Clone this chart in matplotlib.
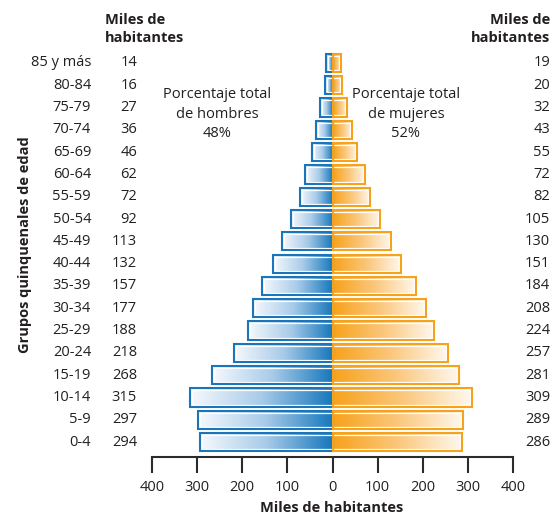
import matplotlib
matplotlib.use("Agg")
import matplotlib.pyplot as plt
import numpy as np
from matplotlib.colors import LinearSegmentedColormap
from matplotlib.patches import Rectangle
from matplotlib.transforms import blended_transform_factory

plt.rcParams['font.family'] = ['Open Sans', 'DejaVu Sans']

age_groups = ["0-4", "5-9", "10-14", "15-19", "20-24", "25-29", "30-34", "35-39",
              "40-44", "45-49", "50-54", "55-59", "60-64", "65-69", "70-74",
              "75-79", "80-84", "85 y más"]
men = [294, 297, 315, 268, 218, 188, 177, 157, 132, 113, 92, 72, 62, 46, 36, 27, 16, 14]
women = [286, 289, 309, 281, 257, 224, 208, 184, 151, 130, 105, 82, 72, 55, 43, 32, 20, 19]
xticks = [-400, -300, -200, -100, 0, 100, 200, 300, 400]
xtick_labels = ["400", "300", "200", "100", "0", "100", "200", "300", "400"]

W, H = 553, 516
fig = plt.figure(figsize=(W / 100, H / 100), dpi=100)
ax = fig.add_axes([152 / W, (H - 457) / H, (513 - 152) / W, (457 - 40) / H])

n = len(age_groups)
row_px = (442 - 63) / (n - 1)
ax.set_xlim(-400, 400)
ax.set_ylim(-15 / row_px, (n - 1) + 23 / row_px)

blue = "#1a75bb"
orange = "#f7a21b"
cm_m = LinearSegmentedColormap.from_list("m", ["#f6f9fd", "#a8cbe9", "#1577bc"])
cm_w = LinearSegmentedColormap.from_list("w", ["#f7a21b", "#fbc77c", "#fff9f0"])
grad = np.linspace(0, 1, 256).reshape(1, -1)

h = 0.82
px_x = 800 / (513 - 152)  # data units per pixel in x
px_y = 1 / row_px
ix, iy = 2.0 * px_x, 2.0 * px_y

for i in range(n):
    m, w = men[i], women[i]
    y0, y1 = i - h / 2, i + h / 2
    ax.imshow(grad, cmap=cm_m, extent=[-m, 0, y0, y1], aspect='auto', zorder=2,
              interpolation='bilinear')
    ax.imshow(grad, cmap=cm_w, extent=[0, w, y0, y1], aspect='auto', zorder=2,
              interpolation='bilinear')
    # inner white lines (three sides)
    ax.plot([0, -m + ix, -m + ix, 0], [y1 - iy, y1 - iy, y0 + iy, y0 + iy],
            color="white", lw=0.9, zorder=3, solid_joinstyle='miter')
    ax.plot([0, w - ix, w - ix, 0], [y1 - iy, y1 - iy, y0 + iy, y0 + iy],
            color="white", lw=0.9, zorder=3, solid_joinstyle='miter')
    ax.add_patch(Rectangle((-m, y0), m, h, fill=False, edgecolor=blue, lw=1.5, zorder=4))
    ax.add_patch(Rectangle((0, y0), w, h, fill=False, edgecolor=orange, lw=1.5, zorder=4))

for s in ["left", "right", "top"]:
    ax.spines[s].set_visible(False)
ax.spines["bottom"].set_color("#2b2b2b")
ax.spines["bottom"].set_linewidth(1.5)
ax.set_yticks([])
ax.set_xticks(xticks)
ax.set_xticklabels(xtick_labels, fontsize=10.5, color="#231f20")
ax.tick_params(axis='x', direction='out', length=11.5, width=1.5, color="#2b2b2b", pad=5)
ax.set_facecolor("none")

tr = blended_transform_factory(fig.transFigure, ax.transData)
fs = 10.5
tc = "#231f20"
for i in range(n):
    ax.text(91 / W, i, age_groups[i], transform=tr, ha='right', va='center', fontsize=fs, color=tc)
    ax.text(137 / W, i, str(men[i]), transform=tr, ha='right', va='center', fontsize=fs, color=tc)
    ax.text(550 / W, i, str(women[i]), transform=tr, ha='right', va='center', fontsize=fs, color=tc)

fig.text(105 / W, 1 - 29 / H, "Miles de\nhabitantes", ha='left', va='center', fontsize=10.5,
         fontweight='bold', color=tc, linespacing=1.4)
fig.text(550 / W, 1 - 29 / H, "Miles de\nhabitantes", ha='right', va='center', fontsize=10.5,
         fontweight='bold', color=tc, linespacing=1.4, multialignment='right')
fig.text(217 / W, 1 - 114 / H, "Porcentaje total\nde hombres\n48%", ha='center', va='center',
         fontsize=fs, color=tc, linespacing=1.4)
fig.text(406 / W, 1 - 114 / H, "Porcentaje total\nde mujeres\n52%", ha='center', va='center',
         fontsize=fs, color=tc, linespacing=1.4)
fig.text(25 / W, 1 - 245 / H, "Grupos quinquenales de edad", rotation=90, ha='center',
         va='center', fontsize=10.5, fontweight='bold', color=tc)
fig.text(332 / W, 1 - 508 / H, "Miles de habitantes", ha='center', va='center',
         fontsize=10.5, fontweight='bold', color=tc)

fig.savefig("out.png", dpi=100)
